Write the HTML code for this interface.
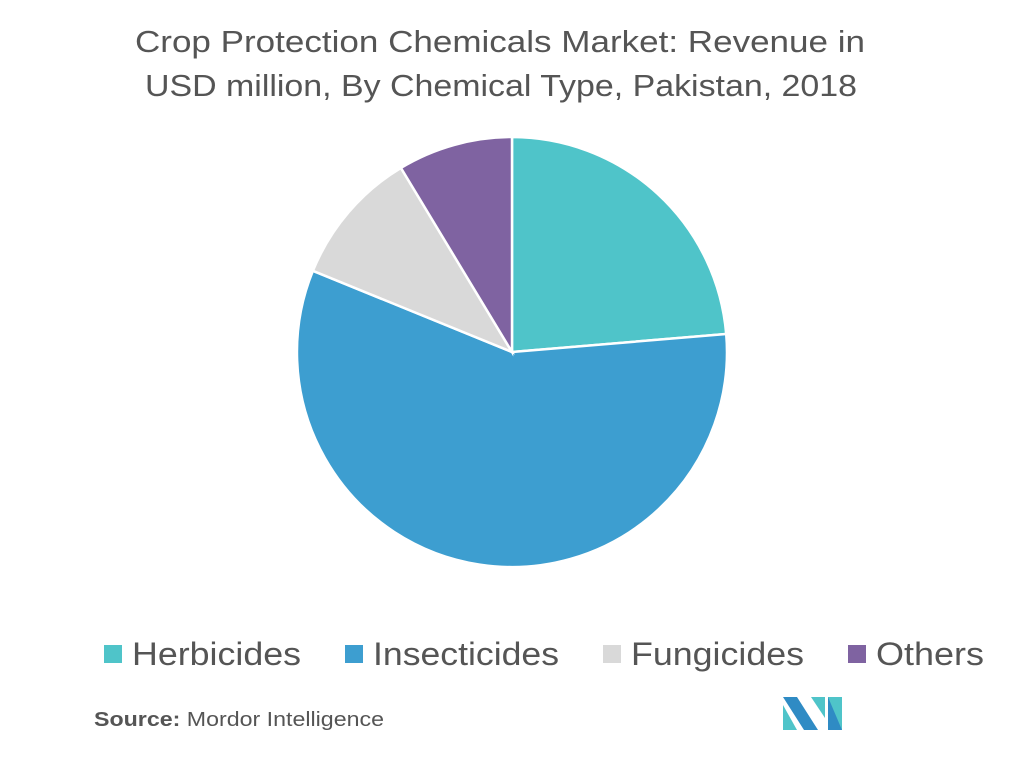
<!DOCTYPE html>
<html><head><style>
body{margin:0;width:1025px;height:762px;background:#fff;font-family:"Liberation Sans",sans-serif;overflow:hidden}
</style></head><body>
<svg width="1025" height="762" xmlns="http://www.w3.org/2000/svg">
<text x="135" y="52" font-size="31" fill="#555" font-family="Liberation Sans, sans-serif" textLength="730" lengthAdjust="spacingAndGlyphs">Crop Protection Chemicals Market: Revenue in</text>
<text x="145" y="96" font-size="31" fill="#555" font-family="Liberation Sans, sans-serif" textLength="712" lengthAdjust="spacingAndGlyphs">USD million, By Chemical Type, Pakistan, 2018</text>
<g stroke="#fff" stroke-width="2.5">
<path d="M512,352 L512,137 A215,215 0 0 1 726.2,334 Z" fill="#4fc4c9"/>
<path d="M512,352 L726.2,334 A215,215 0 1 1 312.9,270.8 Z" fill="#3d9ed0"/>
<path d="M512,352 L312.9,270.8 A215,215 0 0 1 400.9,167.9 Z" fill="#d9d9d9"/>
<path d="M512,352 L400.9,167.9 A215,215 0 0 1 512,137 Z" fill="#7f63a1"/>
</g>
<g font-size="32" fill="#555" font-family="Liberation Sans, sans-serif">
<rect x="104" y="645" width="18" height="18" fill="#4fc4c9"/><text x="132" y="665" textLength="169" lengthAdjust="spacingAndGlyphs">Herbicides</text>
<rect x="345" y="645" width="18" height="18" fill="#3d9ed0"/><text x="373" y="665" textLength="186" lengthAdjust="spacingAndGlyphs">Insecticides</text>
<rect x="603" y="645" width="18" height="18" fill="#d9d9d9"/><text x="631" y="665" textLength="173" lengthAdjust="spacingAndGlyphs">Fungicides</text>
<rect x="848" y="645" width="18" height="18" fill="#7f63a1"/><text x="876" y="665" textLength="108" lengthAdjust="spacingAndGlyphs">Others</text>
</g>
<text x="94" y="726" font-size="20" fill="#555" font-family="Liberation Sans, sans-serif" textLength="290" lengthAdjust="spacingAndGlyphs"><tspan font-weight="bold">Source:</tspan> Mordor Intelligence</text>
<g>
<polygon points="783,697 797,697 818,730 804,730" fill="#2f8bc4"/>
<polygon points="783,705 783,730 797,730" fill="#4fc4c9"/>
<polygon points="811,697 825,697 825,718" fill="#4fc4c9"/>
<polygon points="828,697 842,697 842,730 828,730" fill="#4fc4c9"/>
<polygon points="828,697 842,730 828,730" fill="#2f8bc4"/>
</g>
</svg>
</body></html>
